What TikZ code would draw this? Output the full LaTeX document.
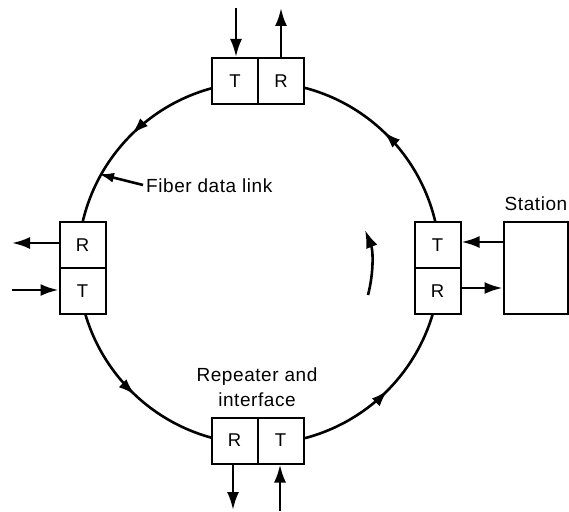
\documentclass[tikz,border=0pt]{standalone}
\usepackage{fontspec}
\setmainfont{Liberation Sans}[LetterSpace=3]
\usetikzlibrary{arrows.meta,decorations.markings}
\begin{document}
\begin{tikzpicture}[x=1pt,y=-1pt,
  box/.style={draw,line width=2pt,fill=white,minimum width=46pt,minimum height=46pt,inner sep=0pt,font=\fontsize{18.5}{20}\selectfont},
  stationbox/.style={draw,line width=2pt,fill=white,minimum width=64pt,minimum height=92pt,inner sep=0pt},
  lbl/.style={font=\fontsize{19}{25}\selectfont,align=center,inner sep=0pt},
  sig/.style={line width=2.6pt,-{Latex[length=18pt,width=12pt]}},
  ring/.style={line width=2.6pt,postaction={decorate},decoration={markings,
    mark=at position 0.124 with {\arrowreversed{Latex[length=17pt,width=11pt]}},
    mark=at position 0.370 with {\arrowreversed{Latex[length=17pt,width=11pt]}},
    mark=at position 0.626 with {\arrowreversed{Latex[length=17pt,width=11pt]}},
    mark=at position 0.871 with {\arrowreversed{Latex[length=17pt,width=11pt]}}}}]
\useasboundingbox (0,0) rectangle (569,511);
\coordinate (c) at (259,263);
\draw[ring] (c) circle (181);
% repeater boxes
\node[box] (tT) at (235,81) {T};
\node[box] (tR) at (281,81) {R};
\node[box] (lR) at (82.5,245) {R};
\node[box] (lT) at (82.5,291) {T};
\node[box] (rT) at (437.5,245) {T};
\node[box] (rR) at (437.5,291) {R};
\node[box] (bR) at (234.5,440.5) {R};
\node[box] (bT) at (280.5,440.5) {T};
\node[stationbox] (st) at (535.5,268) {};
% labels
\node[lbl,anchor=south] (stl) at (536,211) {Station};
\node[lbl] (rep) at (257,387) {Repeater and\\interface};
\node[lbl,anchor=west] (fdl) at (146,186) {Fiber data link};
% free ends
\coordinate (tin) at (236,8);
\coordinate (tout) at (281,8);
\coordinate (lout) at (12,243);
\coordinate (lin) at (12,290);
\coordinate (bout) at (233,510);
\coordinate (bin) at (280,511);
\coordinate (fdlt) at (99,174);
% signal arrows
\draw[sig] (tin) -- (tin |- tT.north);
\draw[sig] (tout |- tR.north) -- (tout);
\draw[sig] (lout -| lR.west) -- (lout);
\draw[sig] (lin) -- (lin -| lT.west);
\draw[sig] (st.west |- 0,242) -- (rT.east |- 0,242);
\draw[sig] (rR.east |- 0,288) -- (st.west |- 0,288);
\draw[sig] (bR.south -| bout) -- (bout);
\draw[sig] (bin) -- (bin |- bT.south);
\draw[sig,-{Latex[length=15pt,width=10pt]}] (fdl.west) ++(-3,-1) coordinate (fs) (fs) -- (fdlt);
% direction arrow
\coordinate (d1) at (368,295);
\coordinate (d2) at (365,230);
\draw[line width=2.6pt,-{Latex[length=18pt,width=12pt]}] (d1) .. controls (374,272) and (373,250) .. (d2);
\end{tikzpicture}
\end{document}
